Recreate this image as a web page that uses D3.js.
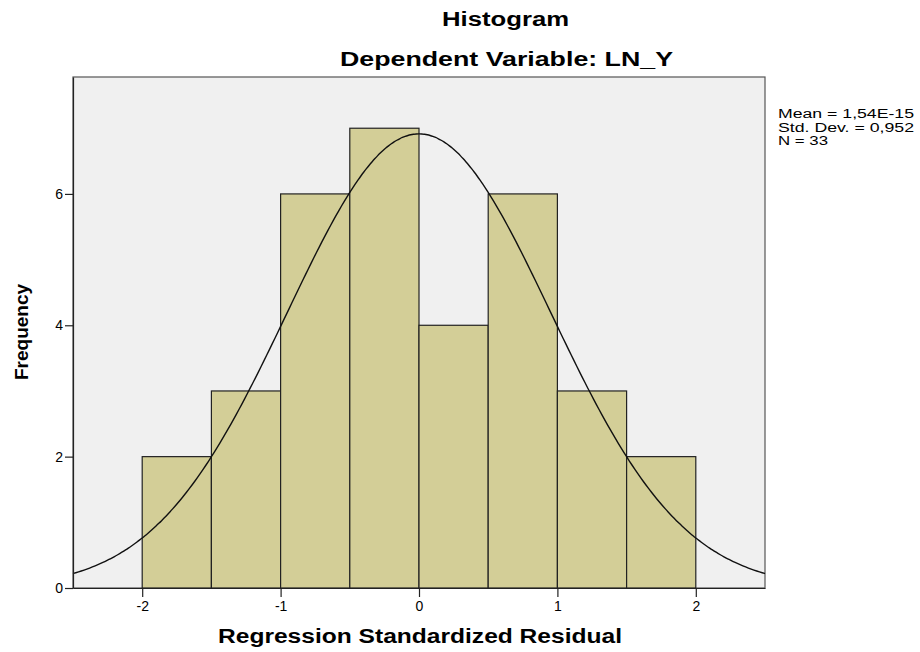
<!DOCTYPE html>
<html>
<head>
<meta charset="utf-8">
<script src="https://cdn.jsdelivr.net/npm/d3@7"></script>
<style>
  body { margin: 0; background: #fff; }
  text { font-family: "Liberation Sans", Arial, sans-serif; fill: #000; }
</style>
</head>
<body>
<div class="container"></div>
<script>
const width = 920, height = 652;

// histogram bins (residual ranges) and frequencies
const binStarts = [-2, -1.5, -1, -0.5, 0, 0.5, 1, 1.5];
const binWidth = 0.5;
const counts = [2, 3, 6, 7, 4, 6, 3, 2];
const xTicks = [-2, -1, 0, 1, 2];
const yTicks = [0, 2, 4, 6];
const stats = { mean: 1.54e-15, sd: 0.952, n: 33 };
const legendLines = ["Mean = 1,54E-15", "Std. Dev. = 0,952", "N = 33"];
const legendWidths = [136, 136, 50];

const margin = { left: 73, right: 155, top: 77, bottom: 64 };

const svg = d3.select(".container")
    .append("svg")
    .attr("width", width)
    .attr("height", height);

const x = d3.scaleLinear().domain([-2.5, 2.5]).range([margin.left, width - margin.right]);
const y = d3.scaleLinear().domain([0, 7.78]).range([height - margin.bottom, margin.top]);

// plot background
svg.append("rect")
    .attr("x", x(-2.5)).attr("y", y(7.78))
    .attr("width", x(2.5) - x(-2.5)).attr("height", y(0) - y(7.78))
    .attr("fill", "#f0f0f0")
    .attr("stroke", "#555").attr("stroke-width", 1.2);

// bars
svg.append("g")
    .selectAll("rect")
    .data(counts)
    .enter()
    .append("rect")
    .attr("x", (d, i) => x(binStarts[i]))
    .attr("y", d => y(d))
    .attr("width", (d, i) => x(binStarts[i] + binWidth) - x(binStarts[i]))
    .attr("height", d => y(0) - y(d))
    .attr("fill", "#d3ce97")
    .attr("stroke", "#222")
    .attr("stroke-width", 1.2);

// normal curve from mean / sd / n
const pdf = v => stats.n * binWidth / (stats.sd * Math.sqrt(2 * Math.PI)) *
    Math.exp(-0.5 * Math.pow((v - stats.mean) / stats.sd, 2));
const curveXs = d3.range(-2.5, 2.5001, 0.02);
svg.append("path")
    .datum(curveXs)
    .attr("fill", "none")
    .attr("stroke", "#111")
    .attr("stroke-width", 1.4)
    .attr("d", d3.line().x(d => x(d)).y(d => y(pdf(d))).curve(d3.curveBasis));

// axes
const xAxis = svg.append("g")
    .attr("transform", `translate(0,${y(0)})`)
    .call(d3.axisBottom(x).tickValues(xTicks).tickSize(9).tickSizeOuter(0).tickPadding(4));
const yAxis = svg.append("g")
    .attr("transform", `translate(${x(-2.5)},0)`)
    .call(d3.axisLeft(y).tickValues(yTicks).tickSize(8).tickSizeOuter(0).tickPadding(2));
[xAxis, yAxis].forEach(a => {
    a.select(".domain").attr("stroke", "#222").attr("stroke-width", 1.2);
    a.selectAll(".tick line").attr("stroke", "#222").attr("stroke-width", 1.2);
    a.selectAll(".tick text").style("font-size", "14px").attr("fill", "#000");
});
xAxis.selectAll(".tick text").text(d => d < 0 ? "-" + Math.abs(d) : d);

// horizontal text in the reference is a bit stretched, so fix the length
const wideText = (tx, ty, str, len, size) => svg.append("text")
    .attr("x", tx).attr("y", ty)
    .attr("text-anchor", "middle")
    .attr("textLength", len)
    .attr("lengthAdjust", "spacingAndGlyphs")
    .style("font-size", size + "px").style("font-weight", "bold")
    .text(str);

wideText(505.5, 26, "Histogram", 127, 20);
wideText(506.5, 66, "Dependent Variable: LN_Y", 333, 20);
wideText(420, 643, "Regression Standardized Residual", 404, 20);

svg.append("text")
    .attr("transform", `translate(28,${332}) rotate(-90)`)
    .attr("text-anchor", "middle")
    .style("font-size", "19px").style("font-weight", "bold")
    .text("Frequency");

// stats legend
svg.append("g")
    .selectAll("text")
    .data(legendLines)
    .enter()
    .append("text")
    .attr("x", 778)
    .attr("y", (d, i) => 118 + i * 13.5)
    .attr("textLength", (d, i) => legendWidths[i])
    .attr("lengthAdjust", "spacingAndGlyphs")
    .style("font-size", "12px")
    .text(d => d);
</script>
</body>
</html>
